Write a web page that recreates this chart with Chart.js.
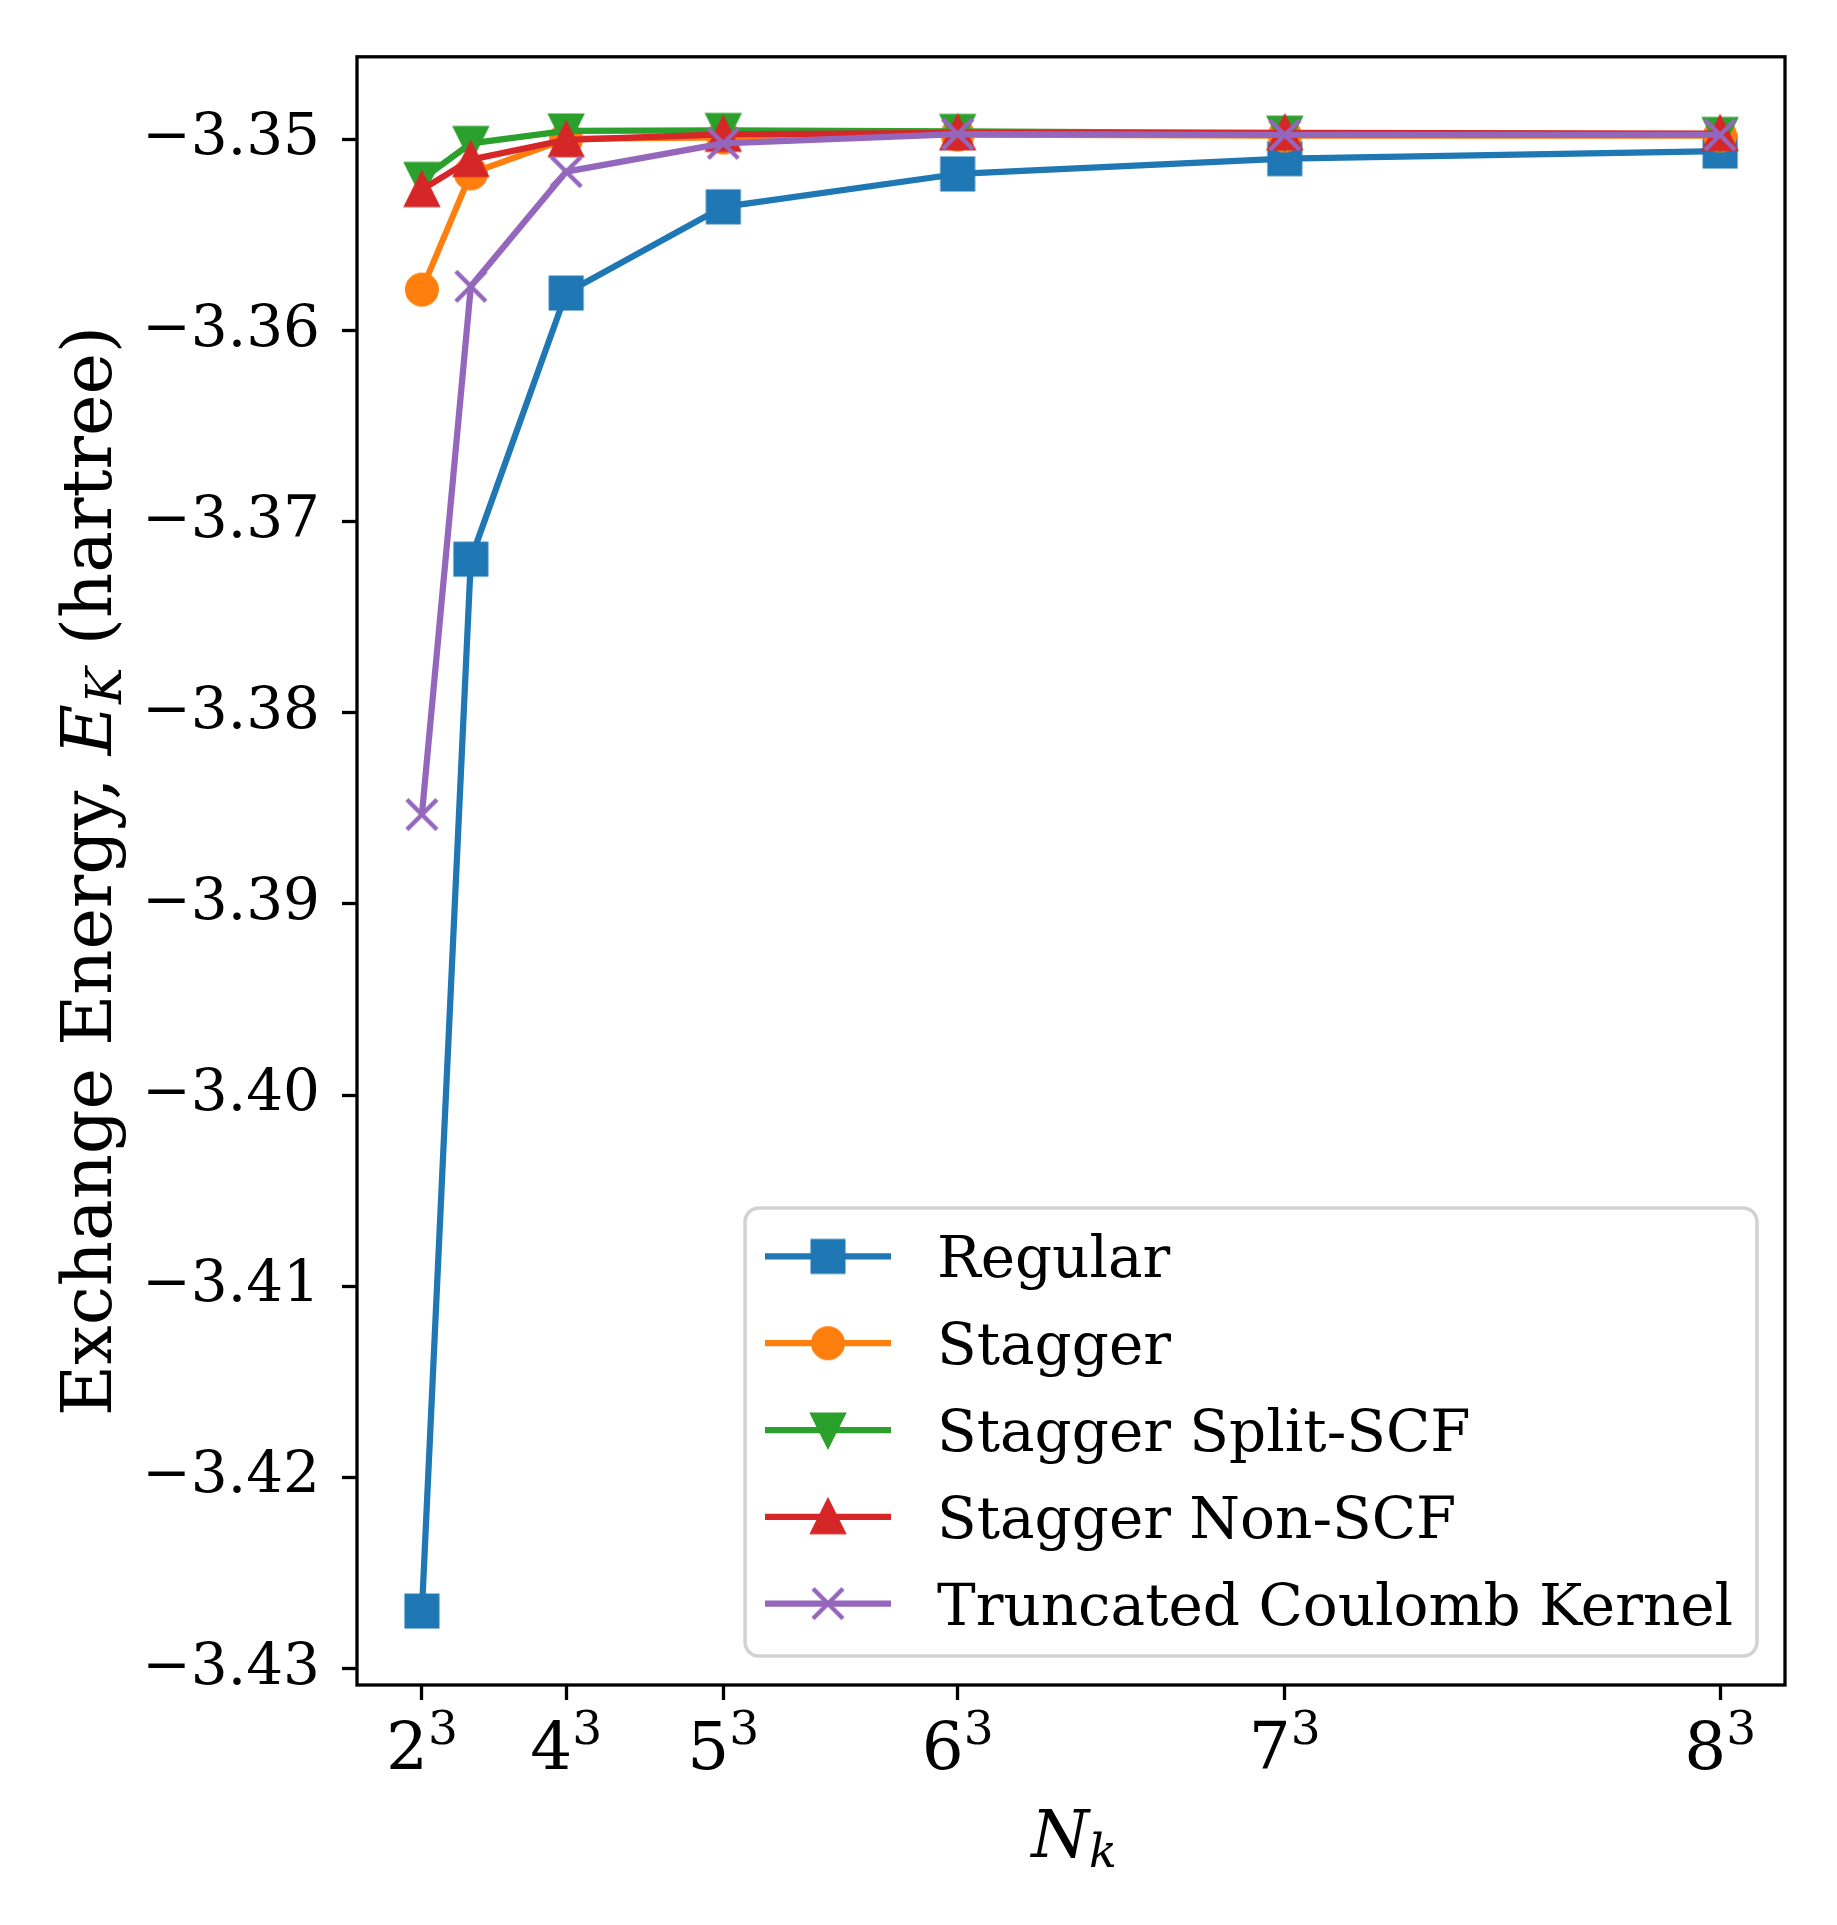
<!DOCTYPE html>
<html>
<head>
<meta charset="utf-8">
<title>Exchange energy convergence</title>
<script src="https://cdn.jsdelivr.net/npm/chart.js@4.4.1/dist/chart.umd.min.js"></script>
<style>
  html, body { margin: 0; padding: 0; background: #fff; }
  #wrap { width: 1837px; height: 1925px; position: relative; }
</style>
</head>
<body>
<div id="wrap"><canvas id="chart"></canvas></div>
<script>
// k-point mesh sizes, N_k = n^3
const nk = [8, 27, 64, 125, 216, 343, 512];
const xTickValues = [8, 64, 125, 216, 343, 512];
const xTickBases = ["2", "4", "5", "6", "7", "8"];
const xTickExp = "3";
const yTickValues = [-3.43, -3.42, -3.41, -3.40, -3.39, -3.38, -3.37, -3.36, -3.35];

// exchange energy E_K (hartree)
const regular = [-3.42699, -3.37196, -3.35804, -3.35353, -3.35181, -3.35101, -3.35061];
const stagger = [-3.35786, -3.35178, -3.34998, -3.34990, -3.34975, -3.34980, -3.34980];
const staggerSplit = [-3.35209, -3.35021, -3.34956, -3.34953, -3.34958, -3.34967, -3.34974];
const staggerNonScf = [-3.35263, -3.35106, -3.35002, -3.34974, -3.34966, -3.34966, -3.34970];
const truncated = [-3.38532, -3.35769, -3.35169, -3.35021, -3.34972, -3.34977, -3.34977];

const seriesNames = ["Regular", "Stagger", "Stagger Split-SCF", "Stagger Non-SCF", "Truncated Coulomb Kernel"];
const seriesData = [regular, stagger, staggerSplit, staggerNonScf, truncated];
const colors = ["#1f77b4", "#ff7f0e", "#2ca02c", "#d62728", "#9467bd"];
const shapes = ["square", "circle", "triDown", "triUp", "cross"];

const SERIF = "'DejaVu Serif'";

// matplotlib-like marker sprites
function makeMarker(shape, color) {
  const size = 48;
  const c = document.createElement("canvas");
  c.width = size;
  c.height = size;
  const g = c.getContext("2d");
  g.translate(size / 2, size / 2);
  g.fillStyle = color;
  g.strokeStyle = color;
  g.lineJoin = "miter";
  g.lineWidth = 4;
  if (shape === "square") {
    g.fillRect(-15.5, -15.5, 31, 31);
    g.strokeRect(-15.5, -15.5, 31, 31);
  } else if (shape === "circle") {
    g.beginPath();
    g.arc(0, 0, 15, 0, Math.PI * 2);
    g.fill();
    g.stroke();
  } else if (shape === "triUp" || shape === "triDown") {
    const s = shape === "triUp" ? 1 : -1;
    g.beginPath();
    g.moveTo(0, -15.5 * s);
    g.lineTo(-15.5, 15.5 * s);
    g.lineTo(15.5, 15.5 * s);
    g.closePath();
    g.fill();
    g.stroke();
  } else if (shape === "cross") {
    g.lineWidth = 4.5;
    g.beginPath();
    g.moveTo(-15, -15);
    g.lineTo(15, 15);
    g.moveTo(15, -15);
    g.lineTo(-15, 15);
    g.stroke();
  }
  return c;
}

const markers = shapes.map((s, i) => makeMarker(s, colors[i]));

function drawRich(ctx, parts, cx, baseline) {
  let total = 0;
  parts.forEach((p) => {
    ctx.font = p.font;
    p.w = ctx.measureText(p.text).width;
    total += p.w;
  });
  let x = cx - total / 2;
  parts.forEach((p) => {
    ctx.font = p.font;
    ctx.fillText(p.text, x, baseline + (p.dy || 0));
    x += p.w;
  });
}

// frame, tick labels with exponents, axis titles and legend
const decorations = {
  id: "decorations",
  afterDraw(chart) {
    const ctx = chart.ctx;
    const a = chart.chartArea;
    const xs = chart.scales.x;
    ctx.save();

    // spines
    ctx.strokeStyle = "#000";
    ctx.lineWidth = 3.3;
    ctx.strokeRect(a.left, a.top, a.right - a.left, a.bottom - a.top);

    ctx.fillStyle = "#000";
    ctx.textAlign = "left";
    ctx.textBaseline = "alphabetic";

    // x tick labels: n^3
    xTickValues.forEach((v, i) => {
      drawRich(ctx, [
        { text: xTickBases[i], font: "66px " + SERIF },
        { text: xTickExp, font: "47px " + SERIF, dy: -25 }
      ], xs.getPixelForValue(v), 1769);
    });

    // y title
    ctx.save();
    ctx.translate(111, (a.top + a.bottom) / 2);
    ctx.rotate(-Math.PI / 2);
    drawRich(ctx, [
      { text: "Exchange Energy, ", font: "70px " + SERIF },
      { text: "E", font: "italic 70px " + SERIF },
      { text: "K", font: "italic 49px " + SERIF, dy: 10 },
      { text: " (hartree)", font: "70px " + SERIF }
    ], 0, 0);
    ctx.restore();

    // x title
    drawRich(ctx, [
      { text: "N", font: "italic 66px " + SERIF },
      { text: "k", font: "italic 46px " + SERIF, dy: 10 }
    ], (a.left + a.right) / 2 + 3, 1857);

    // legend
    const lx = 745, ly = 1208, lw = 1012, lh = 448, r = 14;
    ctx.beginPath();
    ctx.roundRect(lx, ly, lw, lh, r);
    ctx.fillStyle = "rgba(255,255,255,0.8)";
    ctx.fill();
    ctx.lineWidth = 3.5;
    ctx.strokeStyle = "#d2d2d2";
    ctx.stroke();

    seriesNames.forEach((name, i) => {
      const cy = 1256.4 + i * 86.8;
      ctx.strokeStyle = colors[i];
      ctx.lineWidth = 6.25;
      ctx.lineCap = "butt";
      ctx.beginPath();
      ctx.moveTo(765, cy);
      ctx.lineTo(891, cy);
      ctx.stroke();
      const m = markers[i];
      ctx.drawImage(m, 828 - m.width / 2, cy - m.height / 2);
      ctx.fillStyle = "#000";
      ctx.font = "58px " + SERIF;
      ctx.fillText(name, 937, cy + 21);
    });

    ctx.restore();
  }
};

Chart.defaults.font.family = SERIF;
Chart.defaults.color = "#000";

new Chart(document.getElementById("chart"), {
  type: "line",
  data: {
    datasets: seriesData.map((vals, i) => ({
      label: seriesNames[i],
      data: nk.map((x, j) => ({ x: x, y: vals[j] })),
      borderColor: colors[i],
      backgroundColor: colors[i],
      borderWidth: 6.25,
      borderJoinStyle: "round",
      pointStyle: markers[i],
      pointRadius: 18,
      fill: false,
      tension: 0,
      order: seriesNames.length - i
    }))
  },
  options: {
    responsive: true,
    maintainAspectRatio: false,
    animation: false,
    events: [],
    layout: { padding: { left: 0, top: 53, right: 52, bottom: 0 } },
    plugins: {
      legend: { display: false },
      tooltip: { enabled: false }
    },
    scales: {
      x: {
        type: "linear",
        min: -17.2,
        max: 537.2,
        afterBuildTicks: (s) => { s.ticks = xTickValues.map((v) => ({ value: v })); },
        afterFit: (s) => { s.height = 240; },
        ticks: { display: false },
        grid: {
          drawOnChartArea: false,
          drawTicks: true,
          tickLength: 15,
          tickWidth: 3.3,
          tickColor: "#000"
        },
        border: { display: false }
      },
      y: {
        type: "linear",
        min: -3.43086,
        max: -3.34568,
        afterBuildTicks: (s) => { s.ticks = yTickValues.map((v) => ({ value: v })); },
        afterFit: (s) => { s.width = 357; },
        ticks: {
          font: { size: 58 },
          padding: 22,
          autoSkip: false,
          callback: (v) => v.toFixed(2).replace("-", "\u2212")
        },
        grid: {
          drawOnChartArea: false,
          drawTicks: true,
          tickLength: 15,
          tickWidth: 3.3,
          tickColor: "#000"
        },
        border: { display: false }
      }
    }
  },
  plugins: [decorations]
});
</script>
</body>
</html>
